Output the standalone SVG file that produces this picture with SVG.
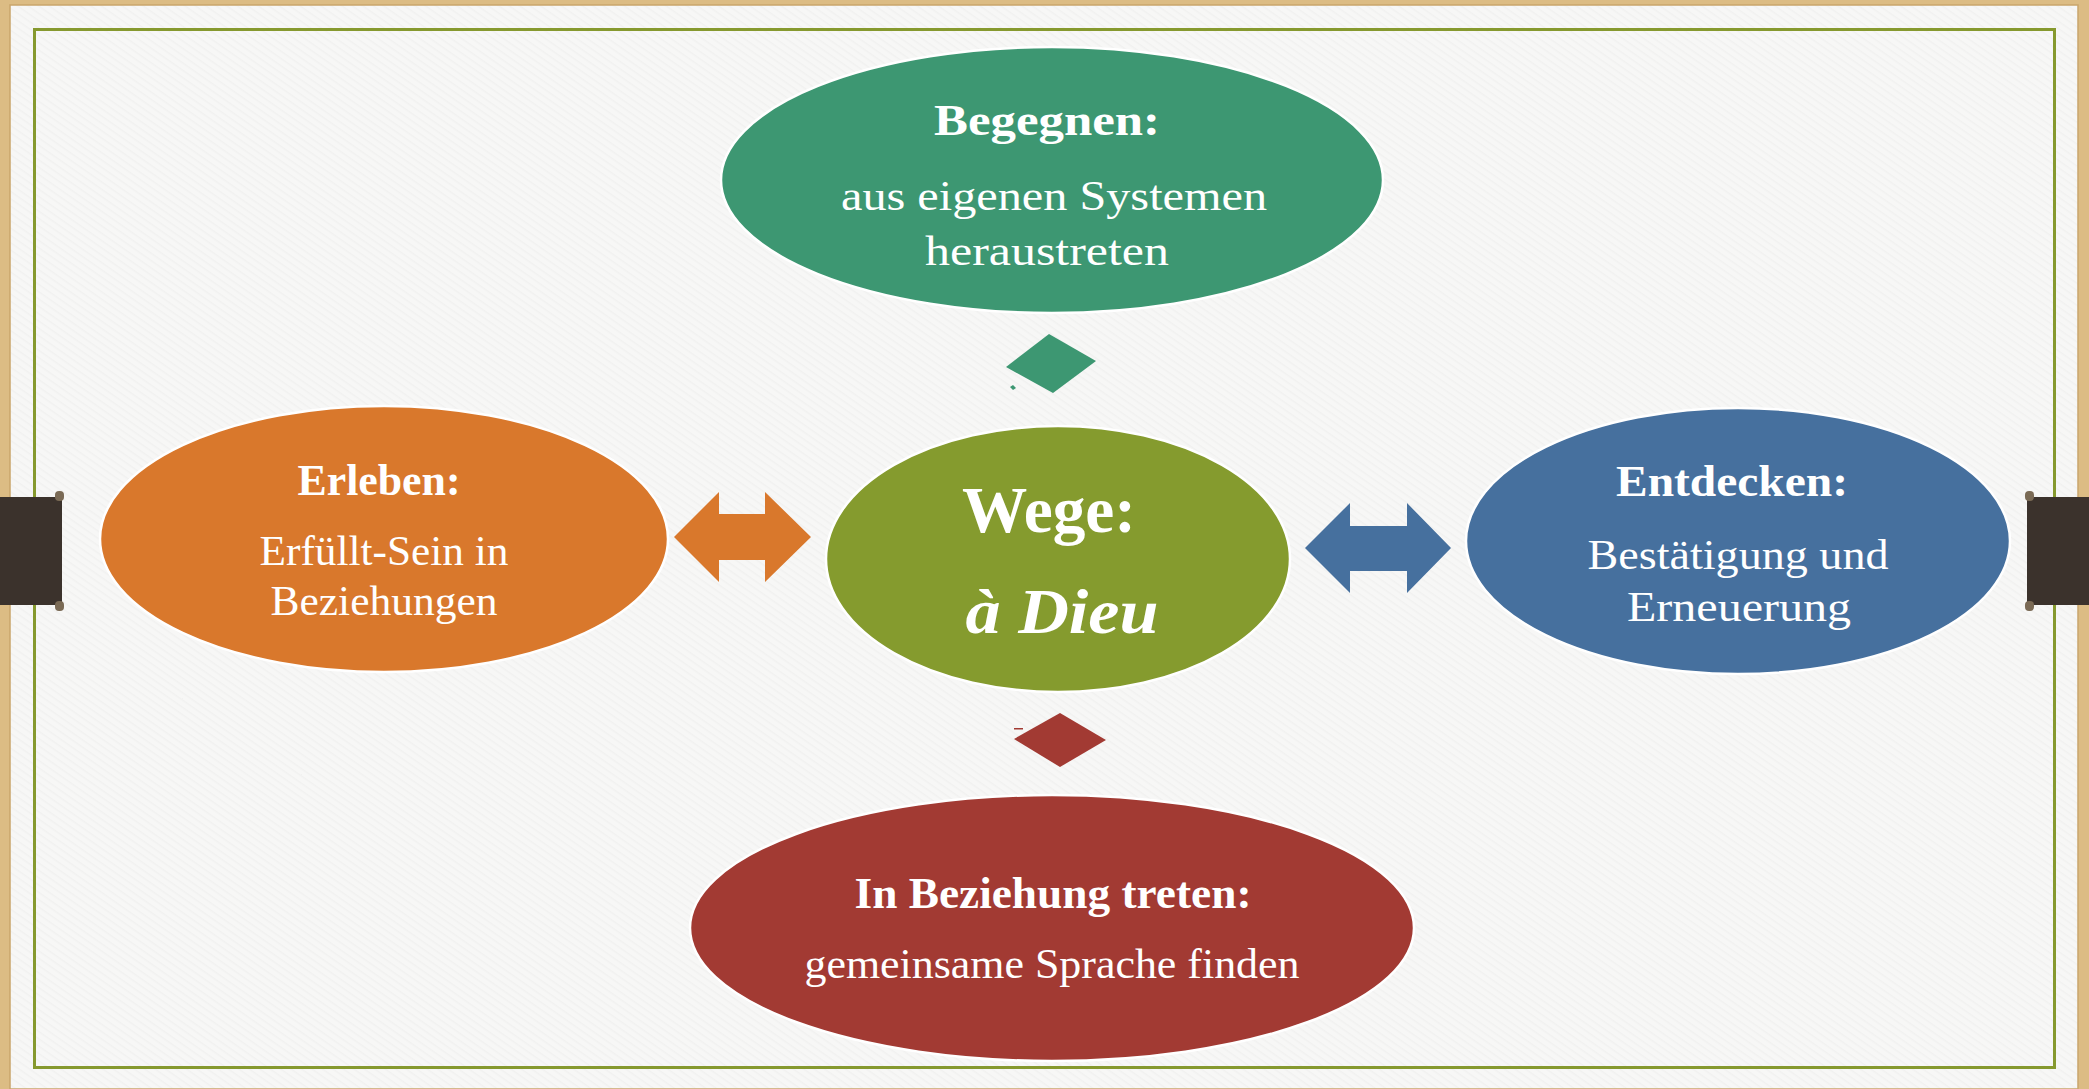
<svg xmlns="http://www.w3.org/2000/svg" width="2089" height="1089" viewBox="0 0 2089 1089">
<defs>
<style>
.t{font-family:"Liberation Serif","Times New Roman",serif;fill:#ffffff;text-anchor:middle}
.h{font-weight:bold;font-size:45px}
.b{font-size:42px}
.node{stroke:#ffffff;stroke-width:2.5}
</style>
<pattern id="tex" width="6" height="6" patternUnits="userSpaceOnUse" patternTransform="rotate(35)">
<rect width="6" height="6" fill="#f7f7f6"/>
<rect width="6" height="1.5" fill="#f1f1f0"/>
</pattern>
</defs>
<rect x="0" y="0" width="2089" height="1089" fill="#dcbc84"/>
<rect x="10" y="5" width="2068" height="1084" fill="url(#tex)"/>
<rect x="10" y="5" width="2068" height="1084" fill="none" stroke="#c9a56b" stroke-width="1.5"/>
<rect x="34.5" y="29.5" width="2020" height="1038" fill="none" stroke="#86992e" stroke-width="3"/>

<g id="tab-left">
<rect x="0" y="497" width="62" height="108" fill="#3b322c"/>
<rect x="55" y="491" width="9" height="10" rx="4" fill="#7a6a55"/>
<rect x="55" y="601" width="9" height="10" rx="4" fill="#7a6a55"/>
</g>
<g id="tab-right">
<rect x="2027" y="497" width="62" height="108" fill="#3b322c"/>
<rect x="2025" y="491" width="9" height="10" rx="4" fill="#7a6a55"/>
<rect x="2025" y="601" width="9" height="10" rx="4" fill="#7a6a55"/>
</g>

<g id="connectors">
<polygon points="674,537 719,492 719,514 765,514 765,492 811,537 765,582 765,560 719,560 719,582" fill="#d9782c"/>
<polygon points="1305,548 1350,503 1350,526 1407,526 1407,503 1451,548 1407,593 1407,571 1350,571 1350,593" fill="#46709e"/>
<polygon points="1049,334 1096,361 1053,393 1006,367" fill="#3d9772"/>
<polygon points="1010,387 1013,385 1016,388 1013,390" fill="#3d9772"/>
<polygon points="1060,713 1106,740 1060,767 1014,739" fill="#a23a33"/>
<rect x="1014" y="728" width="9" height="1.5" fill="#a23a33"/>
</g>

<g id="node-begegnen">
<ellipse class="node" cx="1052" cy="180" rx="331" ry="133" fill="#3d9772"/>
<text class="t h" x="1047" y="135" textLength="226" lengthAdjust="spacingAndGlyphs">Begegnen:</text>
<text class="t b" x="1054" y="210" textLength="426" lengthAdjust="spacingAndGlyphs">aus eigenen Systemen</text>
<text class="t b" x="1047" y="265" textLength="244" lengthAdjust="spacingAndGlyphs">heraustreten</text>
</g>

<g id="node-wege">
<ellipse class="node" cx="1058" cy="559" rx="232" ry="133" fill="#859b2e"/>
<text class="t" x="1049" y="532" font-size="66" font-weight="bold" textLength="174" lengthAdjust="spacingAndGlyphs">Wege:</text>
<text class="t" x="1062" y="633" font-size="64" font-weight="bold" font-style="italic" textLength="193" lengthAdjust="spacingAndGlyphs">à Dieu</text>
</g>

<g id="node-erleben">
<ellipse class="node" cx="384" cy="539" rx="284" ry="133" fill="#d9782c"/>
<text class="t h" x="379" y="495" textLength="163" lengthAdjust="spacingAndGlyphs">Erleben:</text>
<text class="t b" x="384" y="565" textLength="249" lengthAdjust="spacingAndGlyphs">Erfüllt-Sein in</text>
<text class="t b" x="384" y="615" textLength="227" lengthAdjust="spacingAndGlyphs">Beziehungen</text>
</g>

<g id="node-entdecken">
<ellipse class="node" cx="1738" cy="541" rx="272" ry="133" fill="#46709e"/>
<text class="t h" x="1732" y="496" textLength="232" lengthAdjust="spacingAndGlyphs">Entdecken:</text>
<text class="t b" x="1738" y="569" textLength="301" lengthAdjust="spacingAndGlyphs">Bestätigung und</text>
<text class="t b" x="1739" y="621" textLength="224" lengthAdjust="spacingAndGlyphs">Erneuerung</text>
</g>

<g id="node-beziehung">
<ellipse class="node" cx="1052" cy="928" rx="362" ry="133" fill="#a23a33"/>
<text class="t h" x="1053" y="908" textLength="397" lengthAdjust="spacingAndGlyphs">In Beziehung treten:</text>
<text class="t b" x="1052" y="978" textLength="495" lengthAdjust="spacingAndGlyphs">gemeinsame Sprache finden</text>
</g>
</svg>
